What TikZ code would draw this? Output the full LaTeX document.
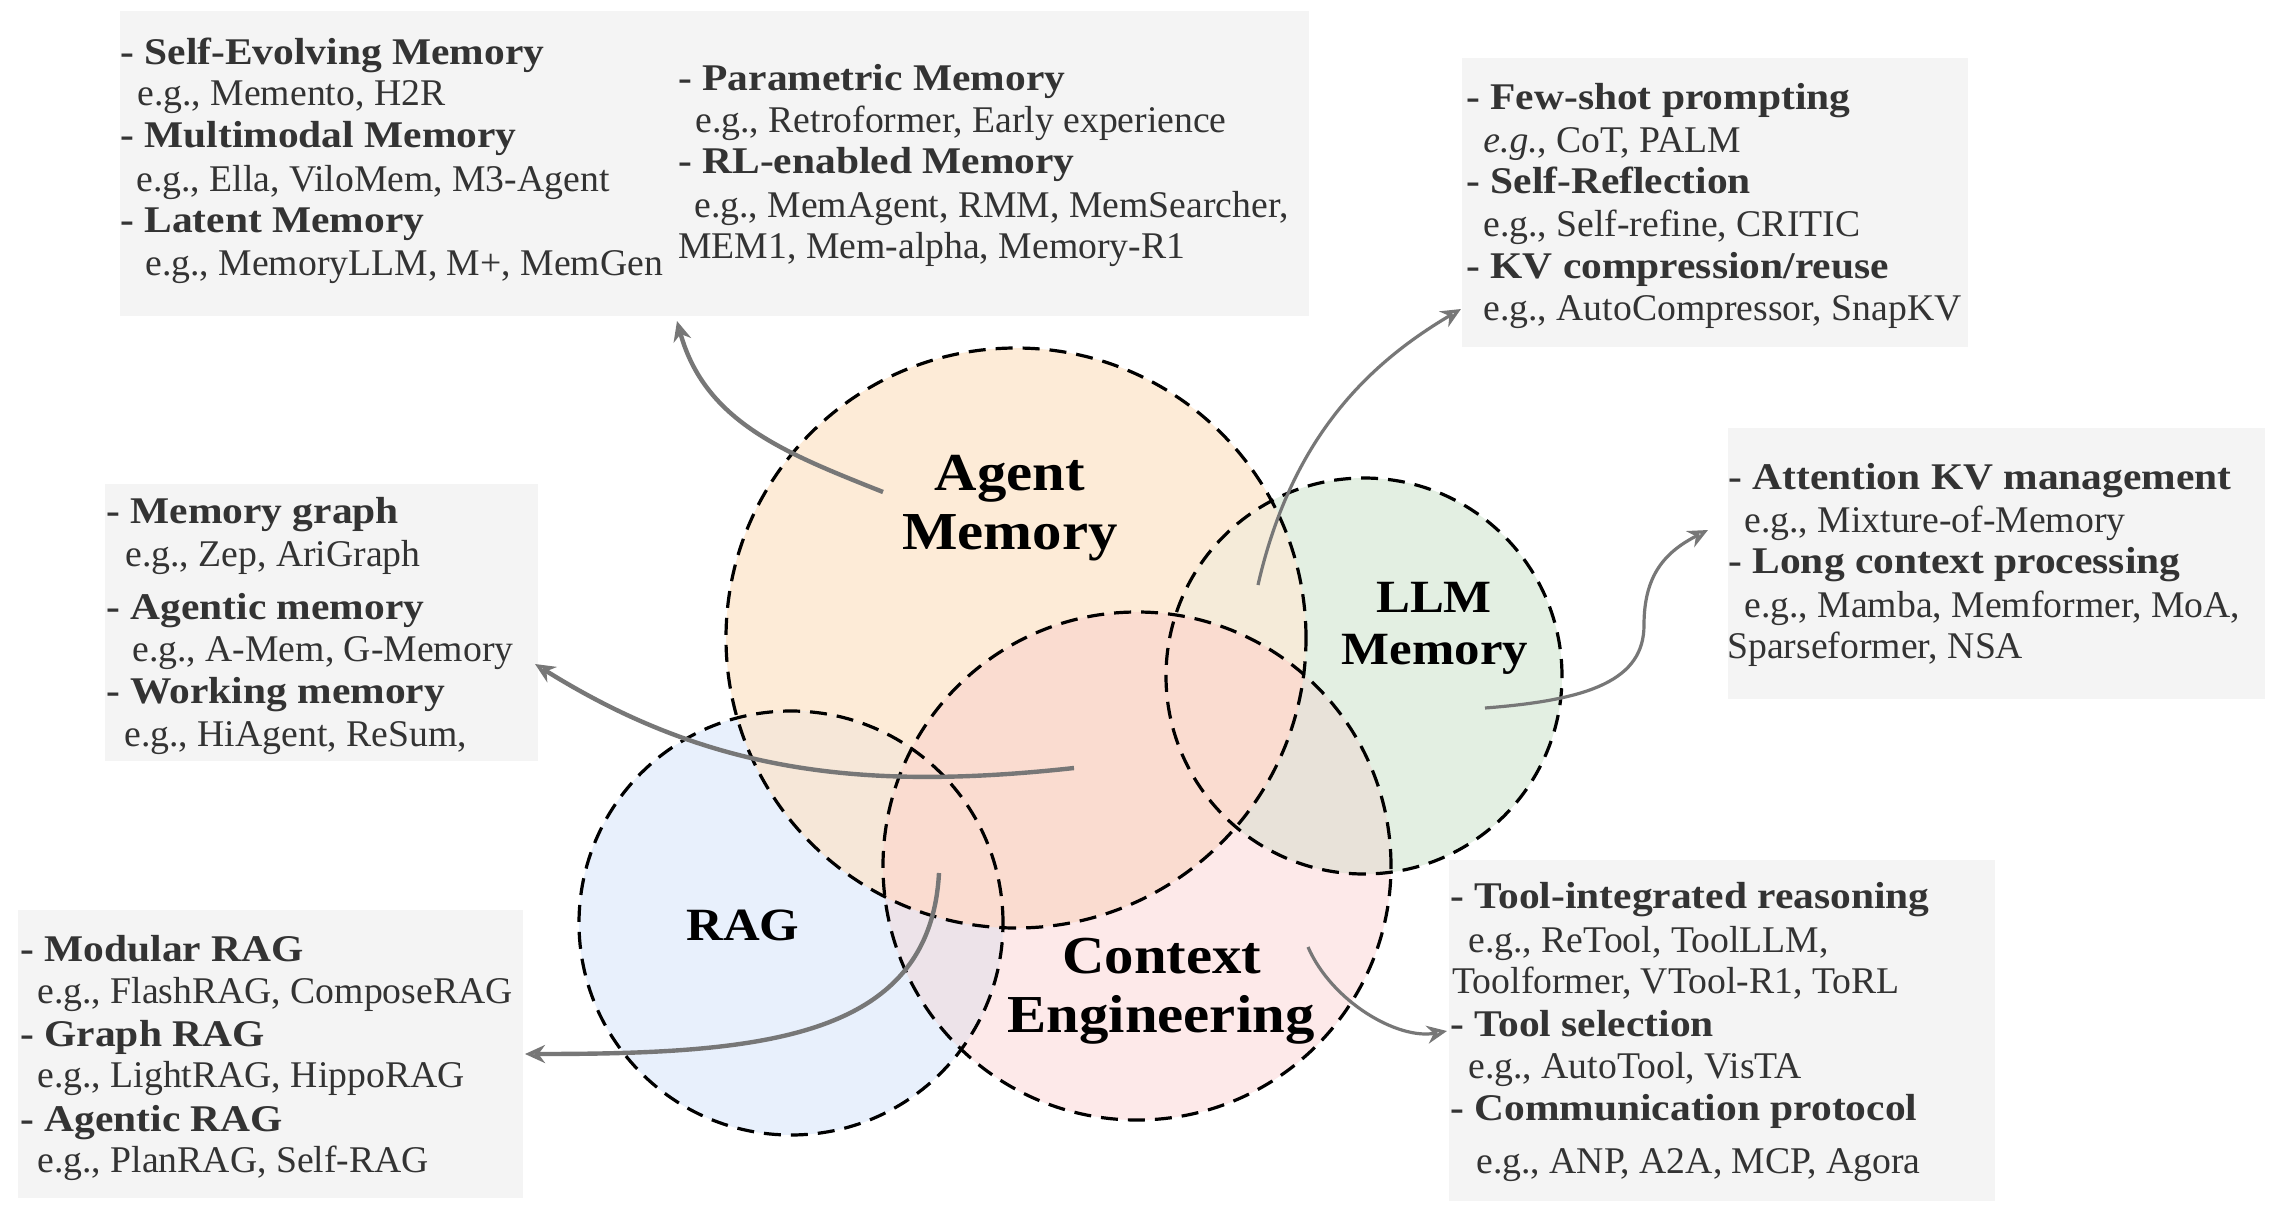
\documentclass[tikz,border=0pt]{standalone}
\usepackage{fontspec}
\setmainfont{Liberation Serif}[BoldFeatures={FakeStretch=1.10}]
\usetikzlibrary{arrows.meta}
\definecolor{colA}{HTML}{FDEBD7}
\definecolor{colL}{HTML}{E3EFE2}
\definecolor{colC}{HTML}{FDE9E9}
\definecolor{colR}{HTML}{E8F0FC}
\definecolor{colAL}{HTML}{F5EBD9}
\definecolor{colAC}{HTML}{FADCD0}
\definecolor{colAR}{HTML}{F6E7D8}
\definecolor{colLC}{HTML}{E8E2D9}
\definecolor{colRC}{HTML}{EDE3E9}
\definecolor{boxgray}{HTML}{F4F4F4}
\definecolor{txtgray}{HTML}{333333}
\definecolor{arrgray}{HTML}{777777}
\newcommand\boxfont{\fontsize{18.85pt}{21pt}\selectfont}
\newcommand\bigfont{\fontsize{26.7pt}{30pt}\selectfont\bfseries}
\newcommand\midfont{\fontsize{23.1pt}{26pt}\selectfont\bfseries}
\begin{document}
\begin{tikzpicture}[x=0.5pt,y=-0.5pt,
  bt/.style={anchor=base west, inner sep=0pt, font=\boxfont, text=txtgray},
  biglbl/.style={anchor=base, inner sep=0pt, font=\bigfont, text=black},
  midlbl/.style={anchor=base, inner sep=0pt, font=\midfont, text=black},
  panel/.style={fill=boxgray},
  venn/.style={draw=black, dash pattern=on 8.5pt off 5pt, line width=1.6pt},
  arr/.style={draw=arrgray, -{Stealth[open,length=10pt,width=9pt]}},
  thick arr/.style={arr, line width=2.2pt},
  thin arr/.style={arr, line width=1.6pt}]
\useasboundingbox (0,0) rectangle (2283,1211);
\fill[white] (0,0) rectangle (2283,1211);

% circle centres
\coordinate (cA) at (1016,638);
\coordinate (cL) at (1364,676);
\coordinate (cC) at (1137,866);
\coordinate (cR) at (791,923);
\def\rA{145pt}\def\rL{99pt}\def\rC{127pt}\def\rR{106pt}

% fills
\fill[colA] (cA) circle[radius=\rA];
\fill[colL] (cL) circle[radius=\rL];
\fill[colC] (cC) circle[radius=\rC];
\fill[colR] (cR) circle[radius=\rR];
\begin{scope}\clip (cA) circle[radius=\rA]; \fill[colAL] (cL) circle[radius=\rL];\end{scope}
\begin{scope}\clip (cA) circle[radius=\rA]; \fill[colAR] (cR) circle[radius=\rR];\end{scope}
\begin{scope}\clip (cC) circle[radius=\rC]; \fill[colLC] (cL) circle[radius=\rL];\end{scope}
\begin{scope}\clip (cC) circle[radius=\rC]; \fill[colRC] (cR) circle[radius=\rR];\end{scope}
\begin{scope}\clip (cA) circle[radius=\rA]; \fill[colAC] (cC) circle[radius=\rC];\end{scope}

% outlines
\draw[venn] (cA) circle[radius=\rA];
\draw[venn] (cL) circle[radius=\rL];
\draw[venn] (cC) circle[radius=\rC];
\draw[venn] (cR) circle[radius=\rR];

% circle labels
\node[biglbl] (agent1) at (1010,490) {Agent};
\node[biglbl] (agent2) at (1010,549) {Memory};
\node[midlbl] (llm1) at (1434,612) {LLM};
\node[midlbl] (llm2) at (1435,664) {Memory};
\node[midlbl] (rag) at (743,940) {RAG};
\node[biglbl] (ctx1) at (1162,973) {Context};
\node[biglbl] (ctx2) at (1161,1032) {Engineering};

% panels
\fill[panel] (120,11) rectangle (1309,316);
\fill[panel] (1462,58) rectangle (1968,347);
\fill[panel] (1728,428) rectangle (2265,699);
\fill[panel] (105,484) rectangle (538,761);
\fill[panel] (18,910) rectangle (523,1198);
\fill[panel] (1449,860) rectangle (1995,1201);

% panel 1 (agent memory)
\node[bt] (p1a) at (120,64) {\textbf{- Self-Evolving Memory}};
\node[bt] (p1b) at (137,105) {e.g., Memento, H2R};
\node[bt] (p1c) at (120,147) {\textbf{- Multimodal Memory}};
\node[bt] (p1d) at (136,191) {e.g., Ella, ViloMem, M3-Agent};
\node[bt] (p1e) at (120,232) {\textbf{- Latent Memory}};
\node[bt] (p1f) at (145,275) {e.g., MemoryLLM, M+, MemGen};
\node[bt] (p1g) at (678,90) {\textbf{- Parametric Memory}};
\node[bt] (p1h) at (695,132) {e.g., Retroformer, Early experience};
\node[bt] (p1i) at (678,173) {\textbf{- RL-enabled Memory}};
\node[bt] (p1j) at (694,217) {e.g., MemAgent, RMM, MemSearcher,};
\node[bt] (p1k) at (678,258) {MEM1, Mem-alpha, Memory-R1};

% panel 2
\node[bt] (p2a) at (1466,109) {\textbf{- Few-shot prompting}};
\node[bt] (p2b) at (1483,152) {\textit{e.g.}, CoT, PALM};
\node[bt] (p2c) at (1466,193) {\textbf{- Self-Reflection}};
\node[bt] (p2d) at (1483,236) {e.g., Self-refine, CRITIC};
\node[bt] (p2e) at (1466,278) {\textbf{- KV compression/reuse}};
\node[bt] (p2f) at (1483,320) {e.g., AutoCompressor, SnapKV};

% panel 3
\node[bt] (p3a) at (1728,489) {\textbf{- Attention KV management}};
\node[bt] (p3b) at (1744,532) {e.g., Mixture-of-Memory};
\node[bt] (p3c) at (1728,573) {\textbf{- Long context processing}};
\node[bt] (p3d) at (1744,617) {e.g., Mamba, Memformer, MoA,};
\node[bt] (p3e) at (1727,658) {Sparseformer, NSA};

% panel 4
\node[bt] (p4a) at (106,523) {\textbf{- Memory graph}};
\node[bt] (p4b) at (125,566) {e.g., Zep, AriGraph};
\node[bt] (p4c) at (106,619) {\textbf{- Agentic memory}};
\node[bt] (p4d) at (132,661) {e.g., A-Mem, G-Memory};
\node[bt] (p4e) at (106,703) {\textbf{- Working memory}};
\node[bt] (p4f) at (124,746) {e.g., HiAgent, ReSum,};

% panel 5
\node[bt] (p5a) at (20,961) {\textbf{- Modular RAG}};
\node[bt] (p5b) at (37,1003) {e.g., FlashRAG, ComposeRAG};
\node[bt] (p5c) at (20,1046) {\textbf{- Graph RAG}};
\node[bt] (p5d) at (37,1087) {e.g., LightRAG, HippoRAG};
\node[bt] (p5e) at (20,1131) {\textbf{- Agentic RAG}};
\node[bt] (p5f) at (37,1172) {e.g., PlanRAG, Self-RAG};

% panel 6
\node[bt] (p6a) at (1450,908) {\textbf{- Tool-integrated reasoning}};
\node[bt] (p6b) at (1468,952) {e.g., ReTool, ToolLLM,};
\node[bt] (p6c) at (1452,993) {Toolformer, VTool-R1, ToRL};
\node[bt] (p6d) at (1450,1036) {\textbf{- Tool selection}};
\node[bt] (p6e) at (1468,1078) {e.g., AutoTool, VisTA};
\node[bt] (p6f) at (1450,1120) {\textbf{- Communication protocol}};
\node[bt] (p6g) at (1476,1173) {e.g., ANP, A2A, MCP, Agora};

% arrow end points
\coordinate (a1s) at (883,492);  \coordinate (a1t) at (677,321);
\coordinate (a2s) at (1258,585); \coordinate (a2t) at (1461,309);
\coordinate (a3s) at (1485,708); \coordinate (a3m) at (1644,625); \coordinate (a3t) at (1708,530);
\coordinate (a4s) at (1074,768); \coordinate (a4t) at (535,664);
\coordinate (a5s) at (939,873);  \coordinate (a5t) at (525,1054);
\coordinate (a6s) at (1308,947); \coordinate (a6t) at (1447,1031);

\draw[thick arr] (a1s) .. controls (785,453) and (705,422) .. (a1t);
\draw[thin arr] (a2s) .. controls (1291,440) and (1366,365) .. (a2t);
\draw[thin arr] (a3s) .. controls (1590,700) and (1644,680) .. (a3m)
                      .. controls (1644,575) and (1665,552) .. (a3t);
\draw[thick arr] (a4s) .. controls (856,792) and (705,770) .. (a4t);
\draw[thick arr] (a5s) .. controls (930,1040) and (760,1054) .. (a5t);
\draw[thin arr] (a6s) .. controls (1332,1002) and (1398,1040) .. (a6t);
\end{tikzpicture}
\end{document}
